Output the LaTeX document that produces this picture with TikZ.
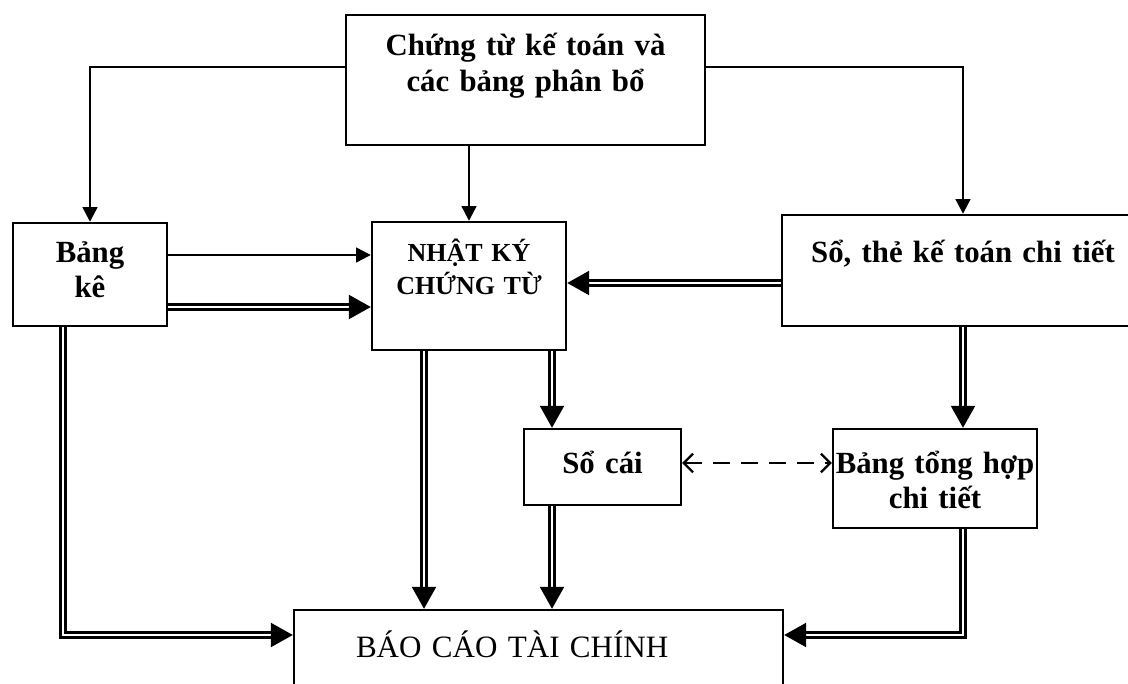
\documentclass[tikz,border=0pt]{standalone}
\usepackage{fontspec}
\setmainfont{Liberation Serif}
\usetikzlibrary{arrows.meta}
\begin{document}
\begin{tikzpicture}[x=0.75pt,y=-0.75pt,>={Triangle[length=11pt,width=11pt]}]
	\tikzset{box/.style={draw,line width=1.8pt,inner sep=0pt,align=center,anchor=base},
		big font/.style={font=\fontsize{23.1}{27}\selectfont\bfseries},
		arr/.style={line width=1.7pt,->},
		dbl/.style={double,double distance=1.9pt,line width=1.7pt,-{Triangle[length=16.5pt,width=18pt]}},
		dashboth/.style={line width=1.7pt,dash pattern=on 13pt off 8pt,{Straight Barb[length=7pt,width=14pt,line width=1.7pt]}-{Straight Barb[length=7pt,width=14pt,line width=1.7pt]}}}
	\def\ytop{67}
	\def\ybot{635}
	\clip (0,0) rectangle (1128,684);
	\node[box,big font,text width=269.25pt,text height=30.75pt,text depth=66.75pt] (ctu) at (525.5,56) {Chứng từ kế toán và\\các bảng phân bổ};
	\node[box,font=\fontsize{23.1}{26.25}\selectfont\bfseries,text width=115.5pt,text height=30pt,text depth=47.25pt] (bk) at (90,263) {Bảng\\kê};
	\node[box,font=\fontsize{19.5}{24.75}\selectfont\bfseries,text width=145.5pt,text height=30pt,text depth=66pt] (nkct) at (469,262) {NHẬT KÝ\\CHỨNG TỪ};
	\node[box,big font,text width=271.5pt,text height=36pt,text depth=47.25pt] (sothe) at (963,263) {Sổ, thẻ kế toán chi tiết};
	\node[box,big font,text width=117.75pt,text height=33pt,text depth=24pt] (socai) at (602.5,473) {Sổ cái};
	\node[box,font=\fontsize{23.1}{26.25}\selectfont\bfseries,inner xsep=-12pt,text width=177pt,text height=33pt,text depth=41.25pt] (bth) at (935,473) {Bảng tổng hợp\\chi tiết};
	\node[box,font=\fontsize{23.3}{27}\selectfont,align=left,inner xsep=46.5pt,text width=273.75pt,text height=35.25pt,text depth=32.25pt] (bctc) at (538.5,657) {BÁO CÁO TÀI CHÍNH};
	\draw[arr] (ctu.west |- 0,\ytop) -| (bk.north);
	\draw[arr] (ctu.east |- 0,\ytop) -| (sothe.north);
	\draw[arr] (nkct.north |- ctu.south) -- (nkct.north);
	\draw[arr] (bk.east |- 0,255) -- (nkct.west |- 0,255);
	\draw[dbl] (bk.east |- 0,307) -- (nkct.west |- 0,307);
	\draw[dbl] (sothe.west |- 0,283) -- (nkct.east |- 0,283);
	\draw[dbl] (63,0 |- bk.south) |- (bctc.west |- 0,\ybot);
	\draw[dbl] (424,0 |- nkct.south) -- (424,0 |- bctc.north);
	\draw[dbl] (552,0 |- nkct.south) -- (552,0 |- socai.north);
	\draw[dbl] (552,0 |- socai.south) -- (552,0 |- bctc.north);
	\draw[dbl] (sothe.south) -- (sothe.south |- bth.north);
	\draw[dbl] (bth.south -| sothe.south) |- (bctc.east |- 0,\ybot);
	\draw[dashboth] (socai.east |- 0,463) -- (bth.west |- 0,463);
\end{tikzpicture}
\end{document}
